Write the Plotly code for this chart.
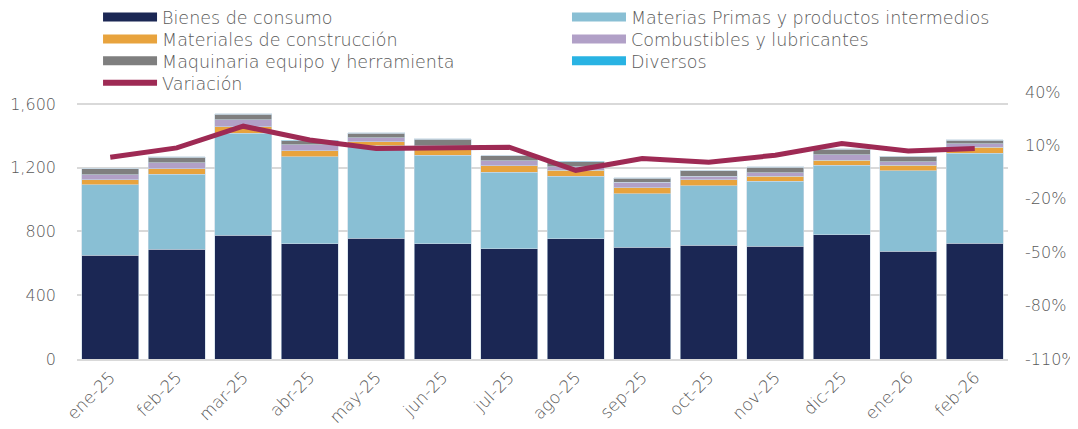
import plotly.graph_objects as go

categorias = ["ene-25", "feb-25", "mar-25", "abr-25", "may-25", "jun-25", "jul-25",
              "ago-25", "sep-25", "oct-25", "nov-25", "dic-25", "ene-26", "feb-26"]
bienes_consumo = [652, 687, 777, 723, 756, 723, 692, 754, 702, 714, 708, 781, 677, 725]
materias_primas = [440, 473, 640, 546, 581, 554, 481, 394, 334, 373, 406, 433, 504, 567]
materiales_construccion = [33, 33, 41, 37, 27, 36, 39, 37, 37, 37, 34, 34, 36, 35]
combustibles = [31, 39, 42, 37, 25, 25, 31, 22, 35, 23, 22, 33, 21, 23]
maquinaria = [36, 34, 37, 27, 28, 42, 31, 31, 25, 33, 34, 36, 33, 21]
diversos = [2, 2, 2, 2, 2, 2, 2, 2, 3, 2, 2, 2, 2, 3]
variacion = [0.033, 0.086, 0.208, 0.130, 0.083, 0.085, 0.090, -0.040, 0.026, 0.005,
             0.045, 0.110, 0.069, 0.083]

left_ticks = [0, 400, 800, 1200, 1600]
right_ticks = [-1.1, -0.8, -0.5, -0.2, 0.1, 0.4]
right_tick_text = [f"{round(v * 100)}%" for v in right_ticks]

series = [
    ("Bienes de consumo", bienes_consumo, "#1B2754"),
    ("Materias Primas y productos intermedios", materias_primas, "#89BFD4"),
    ("Materiales de construcción", materiales_construccion, "#E8A33D"),
    ("Combustibles y lubricantes", combustibles, "#B1A0C7"),
    ("Maquinaria equipo y herramienta", maquinaria, "#7F7F7F"),
    ("Diversos", diversos, "#29B3E3"),
]
line_color = "#9E2A54"
text_color = "#595959"
font_family = "DejaVu Sans"
font_weight = 200

# legend grid (x in paper coords, y in container coords)
col_x = [0.0226, 0.5263]
row_y = [0.979, 0.9277, 0.8765, 0.8252]
legend_slots = [(0, 0), (1, 0), (0, 1), (1, 1), (0, 2), (1, 2), (0, 3)]

fig = go.Figure()
for name, vals, col in series:
    fig.add_trace(go.Bar(
        x=categorias, y=vals, name=name, marker_color=col,
        marker_line=dict(width=0.6, color="#C8D8E4"),
        showlegend=False, yaxis="y",
    ))

fig.add_trace(go.Scatter(
    x=categorias, y=variacion, name="Variación", mode="lines",
    line=dict(color=line_color, width=5), yaxis="y2", showlegend=False,
))

legend_entries = [(n, c, 9) for n, _, c in series] + [("Variación", line_color, 6)]
layout_legends = {}
for i, ((name, col, w), (cx, ry)) in enumerate(zip(legend_entries, legend_slots)):
    key = "legend" if i == 0 else f"legend{i + 1}"
    fig.add_trace(go.Scatter(
        x=[None], y=[None], name=name, mode="lines",
        line=dict(color=col, width=w), legend=key,
        yaxis="y2" if name == "Variación" else "y",
    ))
    layout_legends[key] = dict(
        x=col_x[cx], xanchor="left", xref="paper",
        y=row_y[ry], yanchor="middle", yref="container",
        itemwidth=54, bgcolor="rgba(0,0,0,0)", borderwidth=0,
        font=dict(size=17.5, color=text_color, family=font_family, weight=font_weight),
    )

tick_font = dict(size=16, color=text_color, family=font_family, weight=font_weight)

fig.update_layout(
    width=1078, height=429,
    barmode="stack", bargap=0.14,
    plot_bgcolor="white", paper_bgcolor="white",
    margin=dict(l=69, r=78, t=84, b=78, autoexpand=False),
    font=dict(family=font_family, size=16, color=text_color, weight=font_weight),
    xaxis=dict(
        type="category", tickangle=-45, showgrid=False, ticks="",
        showline=True, linecolor="#D9D9D9", linewidth=1.5, automargin=False,
        tickfont=dict(size=17, color=text_color, family=font_family, weight=font_weight),
    ),
    yaxis=dict(
        range=[0, 1675], tickvals=left_ticks, tickformat=",", automargin=False,
        showgrid=True, gridcolor="#D9D9D9", gridwidth=1.5, zeroline=False,
        ticks="", ticklabelstandoff=20, tickfont=tick_font,
    ),
    yaxis2=dict(
        range=[-1.1, 0.4], tickvals=right_ticks, ticktext=right_tick_text,
        automargin=False, overlaying="y", side="right", showgrid=False, zeroline=False,
        ticks="", ticklabelstandoff=16, tickfont=tick_font,
    ),
    **layout_legends,
)

fig.write_html("out.html")
